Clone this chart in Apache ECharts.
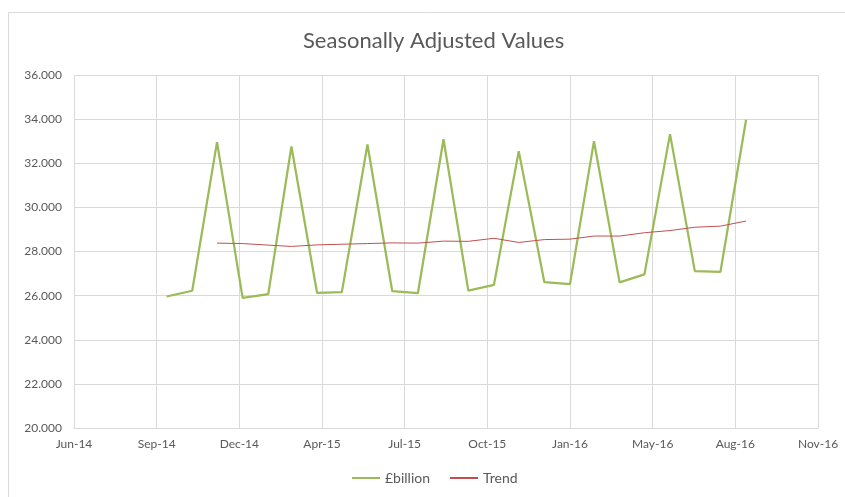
<!DOCTYPE html>
<html>
<head>
<meta charset="utf-8">
<script src="https://cdn.jsdelivr.net/npm/echarts@6/dist/echarts.min.js"></script>
<style>
  html, body { margin: 0; padding: 0; background: #fff; }
  #chart { width: 845px; height: 497px; }
</style>
</head>
<body>
<div id="chart"></div>
<script>
// axis starts on 10 Jun 2014, major unit 100 days
const axisStart = '2014-06-10'
const tickLabels = ['Jun-14', 'Sep-14', 'Dec-14', 'Apr-15', 'Jul-15', 'Oct-15', 'Jan-16', 'May-16', 'Aug-16', 'Nov-16']

const months = [
    '2014-09-30', '2014-10-31', '2014-11-30', '2014-12-31',
    '2015-01-31', '2015-02-28', '2015-03-31', '2015-04-30',
    '2015-05-31', '2015-06-30', '2015-07-31', '2015-08-31',
    '2015-09-30', '2015-10-31', '2015-11-30', '2015-12-31',
    '2016-01-31', '2016-02-29', '2016-03-31', '2016-04-30',
    '2016-05-31', '2016-06-30', '2016-07-31', '2016-08-31'
]

const billion = [
    25960, 26220, 32960, 25900, 26070, 32760, 26130, 26160,
    32850, 26200, 26110, 33090, 26225, 26490, 32550, 26610,
    26520, 33000, 26600, 26960, 33320, 27110, 27080, 33970
]

// trend starts in Nov-14
const trend = [
    null, null, 28380, 28360, 28290, 28230, 28300, 28330,
    28360, 28390, 28380, 28470, 28460, 28600, 28410, 28540,
    28560, 28700, 28700, 28850, 28950, 29100, 29150, 29380
]

const dayMs = 24 * 3600 * 1000
const start = Date.parse(axisStart)
const dayOf = d => Math.round((Date.parse(d) - start) / dayMs)

const fmt = v => {
    const s = String(Math.round(v))
    return s.slice(0, s.length - 3) + '.' + s.slice(-3)
}

const chart = echarts.init(document.getElementById('chart'))
const font = 'Lato, "Open Sans", sans-serif'

chart.setOption({
    animation: false,
    textStyle: { fontFamily: font },
    graphic: [
        {
            type: 'rect',
            shape: { x: 8.5, y: 12.5, width: 900, height: 600 },
            style: { fill: 'none', stroke: '#d9d9d9', lineWidth: 1 },
            silent: true
        }
    ],
    title: {
        text: 'Seasonally Adjusted Values',
        left: 298,
        top: 25,
        textStyle: {
            fontFamily: font,
            fontSize: 22,
            fontWeight: 'normal',
            color: '#595959'
        }
    },
    grid: {
        left: 74,
        right: 27,
        top: 75,
        bottom: 69
    },
    legend: {
        bottom: 7,
        left: 347,
        itemWidth: 28,
        itemHeight: 2,
        itemGap: 20,
        icon: 'rect',
        textStyle: { fontFamily: font, fontSize: 14, color: '#595959' },
        data: ['£billion', 'Trend']
    },
    xAxis: {
        type: 'value',
        min: 0,
        max: 900,
        interval: 100,
        axisLine: { show: true, lineStyle: { color: '#d9d9d9' } },
        axisTick: { show: false },
        splitLine: { show: true, lineStyle: { color: '#d9d9d9' } },
        axisLabel: {
            margin: 10,
            fontSize: 12,
            color: '#595959',
            formatter: v => tickLabels[Math.round(v / 100)]
        }
    },
    yAxis: {
        type: 'value',
        min: 20000,
        max: 36000,
        interval: 2000,
        axisLine: { show: false },
        axisTick: { show: false },
        splitLine: { lineStyle: { color: '#d9d9d9' } },
        axisLabel: {
            margin: 12,
            fontSize: 12,
            color: '#595959',
            formatter: fmt
        }
    },
    series: [
        {
            name: '£billion',
            type: 'line',
            data: months.map((d, i) => [dayOf(d), billion[i]]),
            showSymbol: false,
            itemStyle: { color: '#9bbb59' },
            lineStyle: { color: '#9bbb59', width: 2.25 }
        },
        {
            name: 'Trend',
            type: 'line',
            data: months.map((d, i) => [dayOf(d), trend[i]]).filter(p => p[1] !== null),
            showSymbol: false,
            itemStyle: { color: '#c0504d' },
            lineStyle: { color: '#c0504d', width: 1 }
        }
    ]
})
</script>
</body>
</html>
